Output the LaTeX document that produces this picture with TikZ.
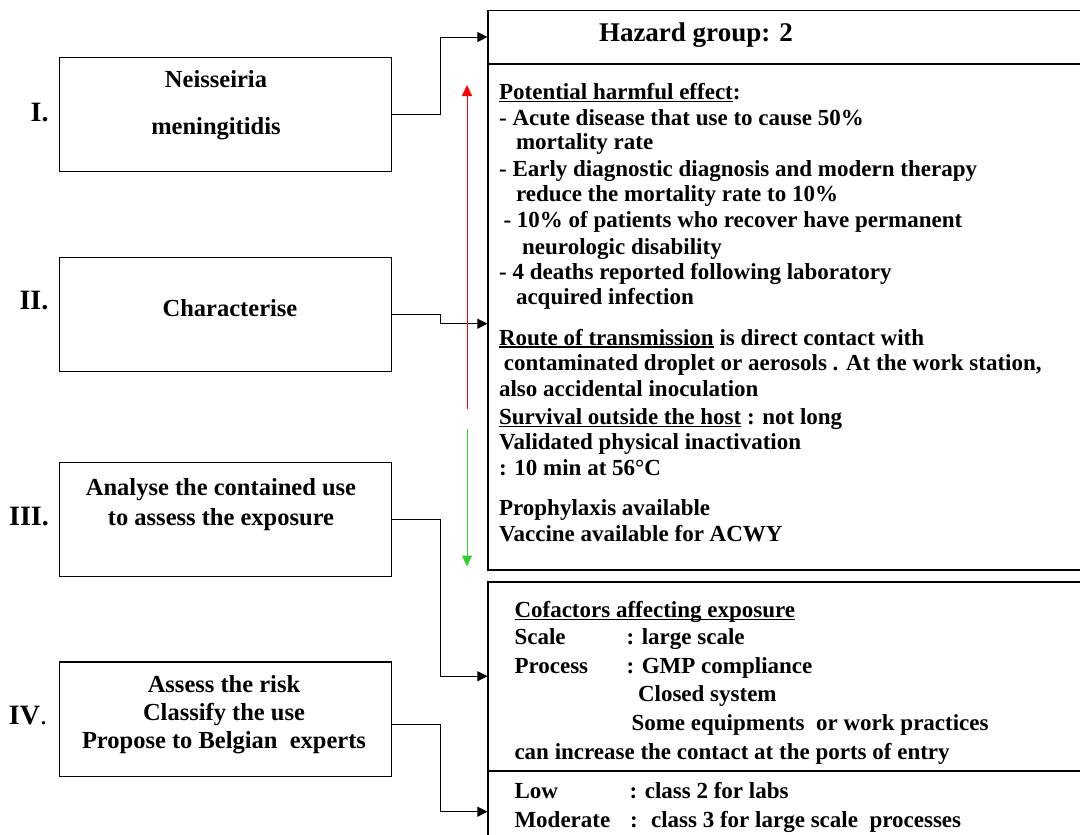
\documentclass[tikz,border=0pt]{standalone}
\usepackage{fontspec}
\setmainfont{Liberation Serif}
\definecolor{upcolor}{HTML}{FF0000}
\definecolor{downcolor}{HTML}{33CC33}
\usetikzlibrary{%
        calc,
        arrows.meta, % arrow tips
    }
% underline at a fixed depth
\newcommand{\ulword}[1]{\leavevmode\setbox0\hbox{#1}\rlap{\rule[-2.6pt]{\wd0}{1.2pt}}\box0\relax}

\begin{document}
\begin{tikzpicture}[x=1pt, y=-1pt, line width=1pt]
    \tikzset{%
        stepbox/.style={draw, line width=1.2pt, minimum width=332pt, minimum height=114.5pt, inner sep=0pt},
        sidebox/.style={draw, line width=1.2pt, minimum width=602pt, inner sep=0pt},
        boxtext/.style={align=center, inner sep=0pt, font=\fontsize{24.5}{27.7}\selectfont\bfseries},
        numtext/.style={inner sep=0pt, font=\fontsize{28}{30}\selectfont\bfseries},
        txtline/.style={anchor=west, inner sep=0pt, text height=16pt, text depth=5pt, font=\fontsize{23}{25.5}\selectfont\bfseries},
        link/.style={line width=1pt, -{Triangle[length=10pt, width=10pt]}},
    }
    \useasboundingbox (0,0) rectangle (1080,835);

    % left steps
    \node [stepbox] (nmbox) at (225.5,114.5) {};
    \node [stepbox] (charbox) at (225.5,314.5) {};
    \node [stepbox] (anabox) at (225.5,519.6) {};
    \node [stepbox] (riskbox) at (225.5,719.3) {};
    \node [boxtext] (nmtext) at (216,105.5) {Neisseiria\\[19pt]meningitidis};
    \node [boxtext] (chartext) at (230,308.5) {Characterise};
    \node [boxtext] (anatext) at (221,504.5) {Analyse the contained use\\[2.3pt]to assess the exposure};
    \node [boxtext] (risktext) at (224,714.5) {Assess the risk\\Classify the use\\Propose to Belgian~ experts};

    % numbers
    \node [numtext] (numI) at (39.6,113) {I.};
    \node [numtext] (numII) at (34,301) {II.};
    \node [numtext] (numIII) at (29,516.5) {III.};
    \node [numtext] (numIV) at (28,715.6) {IV{\mdseries .}};

    % right boxes
    \node [sidebox, minimum height=53.5pt] (hazbox) at (789,37) {};
    \node [sidebox, minimum height=506.2pt] (effbox) at (789,316.9) {};
    \node [sidebox, minimum height=188.4pt] (cofbox) at (789,676.2) {};
    \node [sidebox, minimum height=82.6pt] (classbox) at (789,811.7) {};
    \draw [line width=2.2pt] (hazbox.south west) -- (hazbox.south east);
    \draw [line width=2.2pt] (cofbox.south west) -- (cofbox.south east);

    % hazard group
    \node [txtline, text height=19pt, text depth=6pt, font=\fontsize{27}{30}\selectfont\bfseries] (haztext) at (598.5,35.4) {Hazard group: 2};

    % harmful effect etc.
    \foreach \x/\y/\t [count=\i] in {%
            498.6/94/{\ulword{Potential harmful effect}:},
            498.6/120/{- Acute disease that use to cause 50\%},
            515.5/144/{mortality rate},
            498.6/171/{- Early diagnostic diagnosis and modern therapy},
            515.5/196/{reduce the mortality rate to 10\%},
            503/222/{- 10\% of patients who recover have permanent},
            521.7/248.5/{neurologic disability},
            498.6/274/{- 4 deaths reported following laboratory},
            515.5/299/{acquired infection},
            498.6/339.5/{\ulword{Route of transmission} is direct contact with},
            503.4/365/{contaminated droplet or aerosols . At the work station,},
            498.6/391/{also accidental inoculation},
            498.6/419/{\ulword{Survival outside the host} : not long},
            498.6/444/{Validated physical inactivation},
            498.6/469.7/{: 10 min at 56°C},
            498.6/510/{Prophylaxis available},
            498.6/535.8/{Vaccine available for ACWY}} {%
            \node [txtline] (eff\i) at (\x,\y) {\t};
        };

    % cofactors
    \foreach \x/\y/\t [count=\i] in {%
            514/611.6/{\ulword{Cofactors affecting exposure}},
            514/639/{Scale},
            626/639/{: large scale},
            514/667.7/{Process},
            626/667.7/{: GMP compliance},
            637.5/696/{Closed system},
            631/724.5/{Some equipments~ or work practices},
            514/753.8/{can increase the contact at the ports of entry}} {%
            \node [txtline] (cof\i) at (\x,\y) {\t};
        };

    % classes
    \foreach \x/\y/\t [count=\i] in {%
            514/793/{Low},
            629/793/{: class 2 for labs},
            514/822/{Moderate},
            629.5/822/{:~ class 3 for large scale~ processes}} {%
            \node [txtline] (class\i) at (\x,\y) {\t};
        };

    % connectors
    \draw [link] (nmbox.east) -- ++(48.5,0) |- (hazbox.west);
    \draw [link] (charbox.east) -- ++(48.5,0) |- ([yshift=-6.8pt] effbox.west);
    \draw [link] (anabox.east) -- ++(48.5,0) |- (cofbox.west);
    \draw [link] ([yshift=-4.7pt] riskbox.east) -- ++(48.5,0) |- (classbox.west);

    % up / down arrows
    \coordinate (upfrom) at (467,409);
    \coordinate (upto) at (467,85);
    \coordinate (downfrom) at (467,429);
    \coordinate (downto) at (467,566.5);
    \draw [upcolor, -{Triangle[length=11pt, width=10pt]}] (upfrom) -- (upto);
    \draw [downcolor, -{Triangle[length=11pt, width=10pt]}] (downfrom) -- (downto);
\end{tikzpicture}
\end{document}
